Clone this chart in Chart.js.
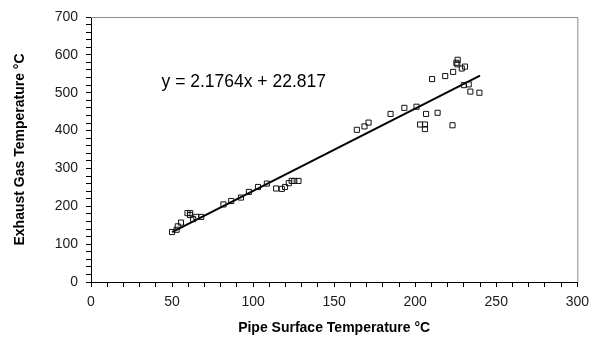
<!DOCTYPE html>
<html>
<head>
<meta charset="utf-8">
<script src="https://cdn.jsdelivr.net/npm/chart.js@4/dist/chart.umd.min.js"></script>
<style>
  body { margin: 0; background: #fff; }
  canvas { display: block; }
</style>
</head>
<body>
<canvas id="tempChart" width="596" height="343"></canvas>
<script>
// measured points: pipe surface temp (x) vs exhaust gas temp (y)
const pipeTemp = [
  50, 52.8, 53.5, 55.5, 59.5, 61.2, 61, 63, 65, 68,
  81.7, 86.5, 92.5, 97.4, 103, 108.5, 114.2, 117.7, 119.7, 122,
  123.8, 125.4, 128, 164, 168.7, 171.2, 184.8, 193.3, 200.8, 203,
  206, 206, 206.7, 210.4, 213.8, 218.5, 223, 223.4, 225.4, 226.2,
  226, 228.7, 230.7, 230, 233, 234, 239.6
];
const gasTemp = [
  132, 138, 147, 157, 182, 182, 177, 166, 172, 172,
  205, 214, 223, 238, 251, 260, 247, 246, 251, 261,
  267, 267, 267, 402, 411, 421, 444, 460, 463, 416,
  416, 404, 444, 536, 447, 544, 414, 555, 579, 587,
  575, 564, 569, 520, 522, 503, 500
];

// linear fit shown on the chart
const slope = 2.1764;
const intercept = 22.817;
const fitRange = [50, 240];
const fitLabel = "y = 2.1764x + 22.817";

const xTitle = "Pipe Surface Temperature °C";
const yTitle = "Exhaust Gas Temperature °C";

const points = pipeTemp.map((x, i) => ({ x: x, y: gasTemp[i] }));
const fitLine = fitRange.map((x) => ({ x: x, y: slope * x + intercept }));

// gray frame on top/right + equation text
const extras = {
  id: "extras",
  afterDraw(chart) {
    const { ctx, chartArea: a, scales } = chart;
    ctx.save();
    ctx.strokeStyle = "#8c8c8c";
    ctx.lineWidth = 1;
    ctx.beginPath();
    ctx.moveTo(a.left, a.top + 0.5);
    ctx.lineTo(a.right + 0.5, a.top + 0.5);
    ctx.lineTo(a.right + 0.5, a.bottom);
    ctx.stroke();

    ctx.fillStyle = "#000";
    ctx.font = "17.5px Arial, 'Liberation Sans', sans-serif";
    ctx.textAlign = "left";
    ctx.textBaseline = "middle";
    ctx.fillText(fitLabel, scales.x.getPixelForValue(43.5), scales.y.getPixelForValue(528));
    ctx.restore();
  },
};

const tickFont = { family: "Arial, 'Liberation Sans', sans-serif", size: 14 };
const titleFont = { family: "Arial, 'Liberation Sans', sans-serif", size: 14, weight: "bold" };

new Chart(document.getElementById("tempChart").getContext("2d"), {
  type: "scatter",
  data: {
    datasets: [
      {
        data: points,
        pointStyle: "rect",
        pointRadius: 3.6,
        pointBorderWidth: 1,
        pointBorderColor: "#111",
        pointBackgroundColor: "rgba(0,0,0,0)",
      },
      {
        data: fitLine,
        showLine: true,
        borderColor: "#000",
        borderWidth: 2,
        pointRadius: 0,
      },
    ],
  },
  options: {
    responsive: false,
    animation: false,
    layout: { padding: { left: 0, right: 13, top: 17, bottom: 0 } },
    plugins: {
      legend: { display: false },
      tooltip: { enabled: false },
    },
    scales: {
      x: {
        type: "linear",
        min: 0,
        max: 300,
        afterFit: (s) => { s.height = 61; },
        ticks: {
          stepSize: 10,
          autoSkip: false,
          maxRotation: 0,
          padding: 7,
          color: "#1a1a1a",
          font: tickFont,
          callback: (v) => (v % 50 === 0 ? v : ""),
        },
        grid: { drawOnChartArea: false, tickLength: 5, color: "#000" },
        border: { color: "#000", width: 1 },
        title: { display: true, text: xTitle, color: "#000", font: titleFont, padding: { top: 0, bottom: 6 } },
      },
      y: {
        type: "linear",
        min: 0,
        max: 700,
        afterFit: (s) => { s.width = 91; },
        ticks: {
          stepSize: 20,
          autoSkip: false,
          padding: 8,
          color: "#1a1a1a",
          font: tickFont,
          callback: (v) => (v % 100 === 0 ? v : ""),
        },
        grid: { drawOnChartArea: false, tickLength: 5, color: "#000" },
        border: { color: "#000", width: 1 },
        title: { display: true, text: yTitle, color: "#000", font: titleFont, padding: { top: 12, bottom: 0 } },
      },
    },
  },
  plugins: [extras],
});
</script>
</body>
</html>
